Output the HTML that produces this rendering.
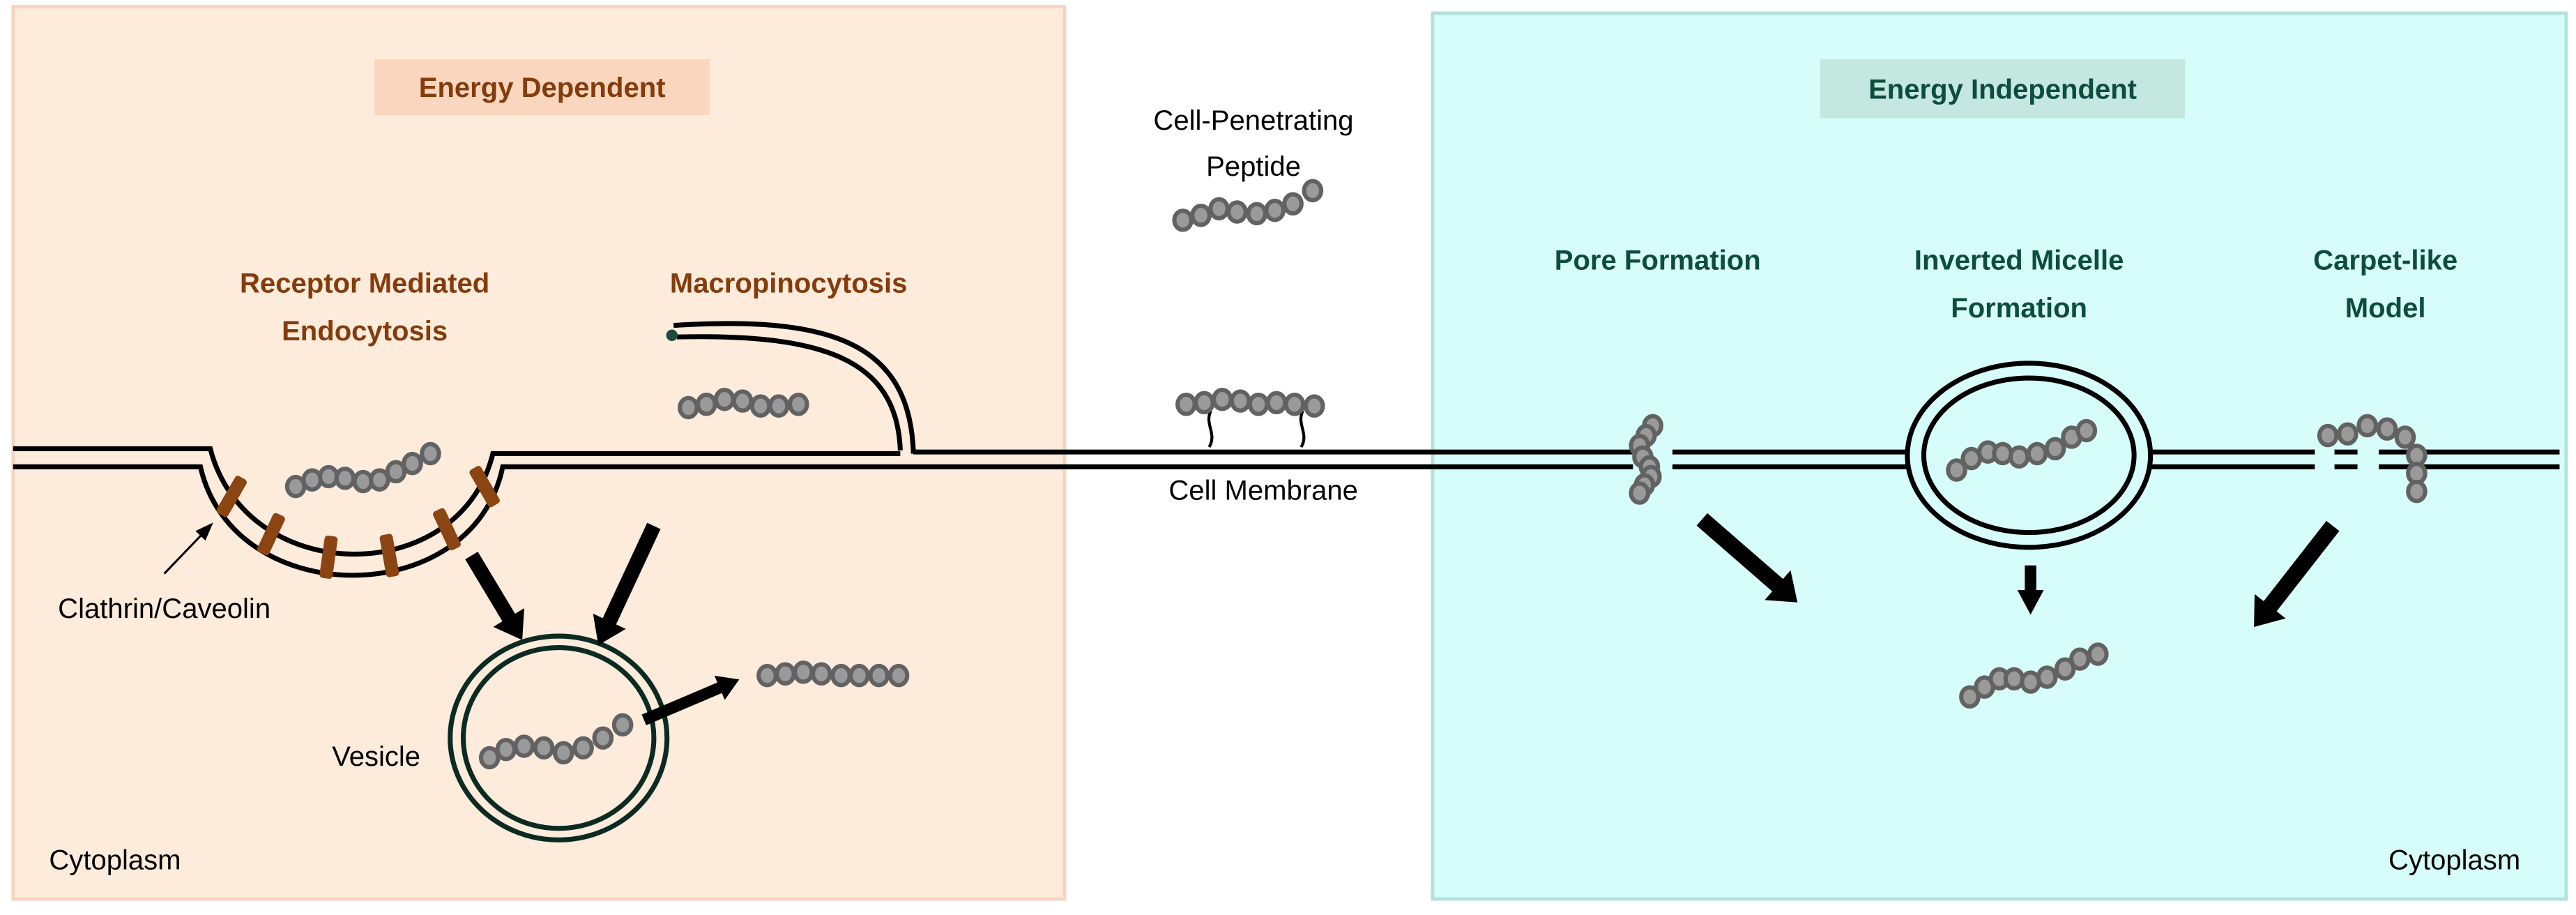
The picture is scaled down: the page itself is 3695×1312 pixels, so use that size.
<!DOCTYPE html>
<html><head><meta charset="utf-8"><style>
html,body{margin:0;padding:0;background:#fff;}
svg{display:block;}
text{font-family:"Liberation Sans",sans-serif;}
</style></head><body>
<svg width="3695" height="1312" viewBox="0 0 1568 556.7" preserveAspectRatio="none" xmlns="http://www.w3.org/2000/svg">
<defs>
<g id="b"><ellipse cx="0" cy="0" rx="5.2" ry="5.8" fill="#9a9a9a" stroke="#626262" stroke-width="2.6"/></g>
</defs>
<rect x="0" y="0" width="1568" height="557" fill="#fff"/>
<rect x="8" y="4" width="640" height="543" fill="#fdebdc" stroke="#f8d3bf" stroke-width="2"/>
<rect x="872" y="8" width="690" height="539" fill="#d6fdf9" stroke="#b3e2da" stroke-width="2"/>
<rect x="228" y="36" width="204" height="34" fill="#fbd6be"/>
<text x="330" y="59" font-size="17" font-weight="bold" fill="#843c0c" text-anchor="middle">Energy Dependent</text>
<rect x="1108" y="36" width="222" height="36" fill="#c4e8df"/>
<text x="1219" y="60" font-size="17" font-weight="bold" fill="#0d4d40" text-anchor="middle">Energy Independent</text>

<g font-size="17" fill="#000" text-anchor="middle">
<text x="763" y="79">Cell-Penetrating</text>
<text x="763" y="107">Peptide</text>
<text x="769" y="304">Cell Membrane</text>
<text x="100" y="376">Clathrin/Caveolin</text>
<text x="229" y="466">Vesicle</text>
<text x="70" y="529">Cytoplasm</text>
<text x="1494" y="529">Cytoplasm</text>
</g>
<g font-size="17" font-weight="bold" fill="#843c0c" text-anchor="middle">
<text x="222" y="178">Receptor Mediated</text>
<text x="222" y="207">Endocytosis</text>
<text x="480" y="178">Macropinocytosis</text>
</g>
<g font-size="17" font-weight="bold" fill="#0d4d40" text-anchor="middle">
<text x="1009" y="164">Pore Formation</text>
<text x="1229" y="164">Inverted Micelle</text>
<text x="1229" y="193">Formation</text>
<text x="1452" y="164">Carpet-like</text>
<text x="1452" y="193">Model</text>
</g>

<!-- membrane -->
<g fill="none" stroke="#000" stroke-width="3">
<path d="M8,273 H128 C150,358 280,358 300,276 H548"/>
<path d="M8,284 H122 C142,372 288,372 306,284 H994"/>
<path d="M556,275 H994"/>
<path d="M1018,275 H1161 M1018,284 H1161"/>
<path d="M1309,275 H1409 M1309,284 H1409"/>
<path d="M1421,275 H1435 M1421,284 H1435"/>
<path d="M1448,275 H1558 M1448,284 H1558"/>
<path d="M548,274 C546,218 500,203 412,205"/>
<path d="M556,276 C554,208 505,192 410,198"/>
<ellipse cx="1235" cy="277" rx="74" ry="56"/>
<ellipse cx="1235" cy="277" rx="64" ry="47"/>
<path d="M737,250 C733,258 741,264 736,272 M793,250 C789,258 797,264 792,272" stroke-width="1.8"/>
</g>
<circle cx="409" cy="204" r="3.5" fill="#1e4a3c"/>
<!-- vesicle -->
<ellipse cx="340" cy="449" rx="66" ry="62" fill="none" stroke="#0b2a22" stroke-width="3"/>
<ellipse cx="340" cy="449" rx="58" ry="55" fill="none" stroke="#0b2a22" stroke-width="3"/>

<!-- clathrin -->
<g fill="#8b4513">
<rect x="-4" y="-13" width="8" height="26" rx="2" transform="translate(141,302) rotate(30)"/>
<rect x="-4" y="-13" width="8" height="26" rx="2" transform="translate(165,325) rotate(25)"/>
<rect x="-4" y="-13" width="8" height="26" rx="2" transform="translate(200,339) rotate(8)"/>
<rect x="-4" y="-13" width="8" height="26" rx="2" transform="translate(237,338) rotate(-10)"/>
<rect x="-4" y="-13" width="8" height="26" rx="2" transform="translate(272,322) rotate(-25)"/>
<rect x="-4" y="-13" width="8" height="26" rx="2" transform="translate(295,296) rotate(-30)"/>
</g>

<!-- arrows -->
<g fill="#000">
<polygon points="0,-4.5 44,-4.5 44,-11 60,0 44,11 44,4.5 0,4.5" transform="translate(287,338) rotate(59)"/>
<polygon points="0,-4.5 64,-4.5 64,-11 80,0 64,11 64,4.5 0,4.5" transform="translate(398,320) rotate(115)"/>
<polygon points="0,-3.5 50,-3.5 50,-8 63,0 50,8 50,3.5 0,3.5" transform="translate(392,438) rotate(-23)"/>
<polygon points="0,-5 61,-5 61,-12 77,0 61,12 61,5 0,5" transform="translate(1036,316) rotate(41)"/>
<polygon points="0,-3.5 15,-3.5 15,-8 30,0 15,8 15,3.5 0,3.5" transform="translate(1236,344) rotate(90)"/>
<polygon points="0,-5 62,-5 62,-12 78,0 62,12 62,5 0,5" transform="translate(1420,320) rotate(128)"/>
</g>
<line x1="100" y1="349" x2="125" y2="323" stroke="#000" stroke-width="1.3"/>
<polygon points="0,-3 8,0 0,3" transform="translate(122,326) rotate(-46) scale(1.4)" fill="#000"/>

<!-- peptides -->
<g>
<use href="#b" x="720" y="134"/><use href="#b" x="731" y="131"/><use href="#b" x="742" y="127"/><use href="#b" x="753" y="129"/><use href="#b" x="765" y="130"/><use href="#b" x="776" y="128"/><use href="#b" x="787" y="124"/><use href="#b" x="799" y="116"/>
<use href="#b" x="419" y="248"/><use href="#b" x="430" y="246"/><use href="#b" x="441" y="243"/><use href="#b" x="452" y="244"/><use href="#b" x="463" y="247"/><use href="#b" x="474" y="247"/><use href="#b" x="486" y="246"/>
<use href="#b" x="180" y="296"/><use href="#b" x="190" y="292"/><use href="#b" x="200" y="290"/><use href="#b" x="210" y="291"/><use href="#b" x="221" y="293"/><use href="#b" x="231" y="292"/><use href="#b" x="241" y="287"/><use href="#b" x="251" y="282"/><use href="#b" x="262" y="276"/>
<use href="#b" x="722" y="246"/><use href="#b" x="733" y="245"/><use href="#b" x="744" y="243"/><use href="#b" x="755" y="244"/><use href="#b" x="766" y="246"/><use href="#b" x="777" y="245"/><use href="#b" x="788" y="246"/><use href="#b" x="800" y="247"/>
<use href="#b" x="298" y="461"/><use href="#b" x="308" y="456"/><use href="#b" x="319" y="454"/><use href="#b" x="331" y="455"/><use href="#b" x="343" y="458"/><use href="#b" x="355" y="455"/><use href="#b" x="367" y="449"/><use href="#b" x="379" y="441"/>
<use href="#b" x="467" y="411"/><use href="#b" x="478" y="410"/><use href="#b" x="489" y="409"/><use href="#b" x="500" y="410"/><use href="#b" x="512" y="411"/><use href="#b" x="523" y="411"/><use href="#b" x="535" y="411"/><use href="#b" x="547" y="411"/>
<use href="#b" x="1191" y="286"/><use href="#b" x="1200" y="279"/><use href="#b" x="1210" y="275"/><use href="#b" x="1219" y="276"/><use href="#b" x="1229" y="278"/><use href="#b" x="1240" y="276"/><use href="#b" x="1251" y="273"/><use href="#b" x="1261" y="266"/><use href="#b" x="1270" y="262"/>
<use href="#b" x="1199" y="424"/><use href="#b" x="1208" y="418"/><use href="#b" x="1217" y="413"/><use href="#b" x="1226" y="413"/><use href="#b" x="1236" y="415"/><use href="#b" x="1246" y="412"/><use href="#b" x="1257" y="407"/><use href="#b" x="1266" y="401"/><use href="#b" x="1277" y="398"/>
<use href="#b" x="1006" y="259"/><use href="#b" x="1002" y="265"/><use href="#b" x="998" y="271"/><use href="#b" x="1000" y="278"/><use href="#b" x="1004" y="284"/><use href="#b" x="1005" y="290"/><use href="#b" x="1001" y="295"/><use href="#b" x="998" y="300"/>
<use href="#b" x="1417" y="265"/><use href="#b" x="1429" y="264"/><use href="#b" x="1441" y="259"/><use href="#b" x="1453" y="261"/><use href="#b" x="1464" y="266"/><use href="#b" x="1471" y="277"/><use href="#b" x="1471" y="288"/><use href="#b" x="1471" y="299"/>
</g>
</svg>
</body></html>
